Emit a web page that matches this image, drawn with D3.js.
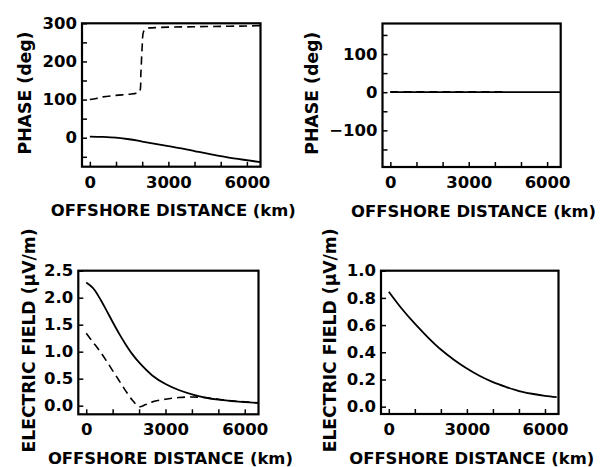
<!DOCTYPE html>
<html>
<head>
<meta charset="utf-8">
<script src="https://cdn.jsdelivr.net/npm/d3@7"></script>
<style>
  body { margin: 0; background: #fff; }
  svg { display: block; font-family: "DejaVu Sans", sans-serif; font-weight: bold; }
</style>
</head>
<body>
<div id="chart"></div>
<script>
// x axis, shared by the four panels (km offshore)
const xDomain = [-300, 6520];
const distTicks = [0, 1000, 2000, 3000, 4000, 5000, 6000];
const distLabels = [0, 3000, 6000];

// top left: phase (deg)
const phaseDistA = [0, 500, 1000, 1500, 2000, 2500, 3000, 3500, 4000, 4500, 5000, 5500, 6000, 6520];
const phaseSolidA = [3, 2, 0, -4, -10, -16, -22, -28, -35, -42, -48, -54, -59, -64];
const phaseDashDistA = [0, 250, 500, 1000, 1500, 1800, 1900, 1950, 2000, 2050, 2150, 2300, 2600, 3000, 4000, 5000, 6000, 6520];
const phaseDashedA = [100, 103, 107, 111, 114, 117, 121, 170, 240, 278, 286, 288, 289, 290, 291, 292, 293, 294];

// top right: phase (deg)
const phaseDistB = [0, 1000, 2000, 3000, 4000, 5000, 6000, 6520];
const phaseSolidB = [0, 0, 0, 0, 0, 0, 0, 0];
const phaseDashDistB = [0, 1000, 2000, 3000, 4000, 4400];
const phaseDashedB = [0.8, 0.8, 0.8, 0.8, 0.8, 0.8];

// bottom left: electric field (uV/m)
const fieldDistA = [0, 250, 500, 750, 1000, 1250, 1500, 1750, 2000, 2500, 3000, 3500, 4000, 4500, 5000, 5500, 6000, 6520];
const fieldSolidA = [2.28, 2.18, 2.0, 1.78, 1.55, 1.33, 1.13, 0.95, 0.80, 0.56, 0.40, 0.29, 0.21, 0.15, 0.11, 0.085, 0.065, 0.05];
const fieldDashDistA = [0, 250, 500, 750, 1000, 1250, 1500, 1750, 2000, 2250, 2500, 3000, 3500, 4000, 4500, 5000, 5500, 6000, 6520];
const fieldDashedA = [1.34, 1.18, 1.02, 0.84, 0.65, 0.46, 0.27, 0.1, -0.02, 0.02, 0.07, 0.12, 0.15, 0.16, 0.15, 0.12, 0.09, 0.07, 0.05];

// bottom right: electric field (uV/m)
const fieldDistB = [0, 500, 1000, 1500, 2000, 2500, 3000, 3500, 4000, 4500, 5000, 5500, 6000, 6450];
const fieldSolidB = [0.845, 0.72, 0.61, 0.51, 0.42, 0.345, 0.28, 0.225, 0.18, 0.145, 0.115, 0.095, 0.08, 0.07];

function pts(xs, ys) { return xs.map((d, i) => [d, ys[i]]); }

const panels = [
  { box: [82, 260.5, 23.3, 166.7], yDomain: [-76, 300], yTicks: d3.range(-50, 301, 50), yLabel: d => d % 100 === 0 ? d3.format("d")(d) : "",
    title: "PHASE (deg)", titleX: 30.7, titleLen: 123,
    solid: pts(phaseDistA, phaseSolidA), dashed: pts(phaseDashDistA, phaseDashedA) },
  { box: [382.5, 560.7, 23.5, 167], yDomain: [-196, 180], yTicks: d3.range(-150, 151, 50), yLabel: d => d % 100 === 0 ? d3.format("d")(d) : "",
    title: "PHASE (deg)", titleX: 318.3, titleLen: 123,
    solid: pts(phaseDistB, phaseSolidB), dashed: pts(phaseDashDistB, phaseDashedB) },
  { box: [78.3, 258.5, 270.7, 414.3], yDomain: [-0.16, 2.5], yTicks: d3.range(0, 2.51, 0.5), yLabel: d3.format(".1f"),
    title: "ELECTRIC FIELD (\u03bcV/m)", titleX: 35, titleLen: 224,
    solid: pts(fieldDistA, fieldSolidA), dashed: pts(fieldDashDistA, fieldDashedA) },
  { box: [381, 558.5, 270.7, 414], yDomain: [-0.054, 1.0], yTicks: d3.range(0, 1.01, 0.2), yLabel: d3.format(".1f"),
    title: "ELECTRIC FIELD (\u03bcV/m)", titleX: 336, titleLen: 224,
    solid: pts(fieldDistB, fieldSolidB), dashed: null }
];

const svg = d3.select("#chart").append("svg")
  .attr("width", 601)
  .attr("height", 467);

panels.forEach((p, i) => {
  const [x0, x1, y0, y1] = p.box;
  const x = d3.scaleLinear().domain(xDomain).range([x0, x1]);
  const y = d3.scaleLinear().domain(p.yDomain).range([y1, y0]);
  const g = svg.append("g");

  // clip so curves stop at the frame
  g.append("clipPath").attr("id", "clip" + i)
    .append("rect").attr("x", x0).attr("y", y0).attr("width", x1 - x0).attr("height", y1 - y0);

  const line = d3.line().x(d => x(d[0])).y(d => y(d[1])).curve(d3.curveCatmullRom.alpha(0.5));

  if (p.dashed) {
    g.append("path")
      .attr("clip-path", `url(#clip${i})`)
      .attr("d", line(p.dashed))
      .attr("fill", "none")
      .attr("stroke", "#000")
      .attr("stroke-width", 1.6)
      .attr("stroke-dasharray", "8,5");
  }
  g.append("path")
    .attr("clip-path", `url(#clip${i})`)
    .attr("d", line(p.solid))
    .attr("fill", "none")
    .attr("stroke", "#000")
    .attr("stroke-width", 1.8);

  // bottom axis: ticks pointing in
  const xa = g.append("g")
    .attr("transform", `translate(0,${y1})`)
    .call(d3.axisBottom(x).tickValues(distTicks).tickSize(-5).tickPadding(9.3)
      .tickFormat(d => distLabels.includes(d) ? d : ""));

  // left axis
  const ya = g.append("g")
    .attr("transform", `translate(${x0},0)`)
    .call(d3.axisLeft(y).tickValues(p.yTicks).tickSize(-5).tickPadding(5).tickFormat(p.yLabel));

  [xa, ya].forEach(a => {
    a.select(".domain").remove();
    a.selectAll(".tick line").attr("stroke", "#000").attr("stroke-width", 1.5);
    a.selectAll("text").attr("font-family", "DejaVu Sans").attr("font-weight", "bold")
      .attr("font-size", "16.5px").attr("fill", "#000");
  });

  // frame
  g.append("rect")
    .attr("x", x0).attr("y", y0)
    .attr("width", x1 - x0).attr("height", y1 - y0)
    .attr("fill", "none")
    .attr("stroke", "#000")
    .attr("stroke-width", 2.2);

  // axis titles
  g.append("text")
    .attr("x", (x0 + x1) / 2 + 2)
    .attr("y", y1 + 49.5)
    .attr("text-anchor", "middle")
    .attr("font-size", "16.5px")
    .attr("textLength", 245)
    .attr("lengthAdjust", "spacingAndGlyphs")
    .text("OFFSHORE DISTANCE (km)");

  const cy = (y0 + y1) / 2 - 2;
  g.append("text")
    .attr("transform", `translate(${p.titleX},${cy}) rotate(-90)`)
    .attr("text-anchor", "middle")
    .attr("font-size", "17px")
    .attr("textLength", p.titleLen)
    .attr("lengthAdjust", "spacingAndGlyphs")
    .text(p.title);
});
</script>
</body>
</html>
